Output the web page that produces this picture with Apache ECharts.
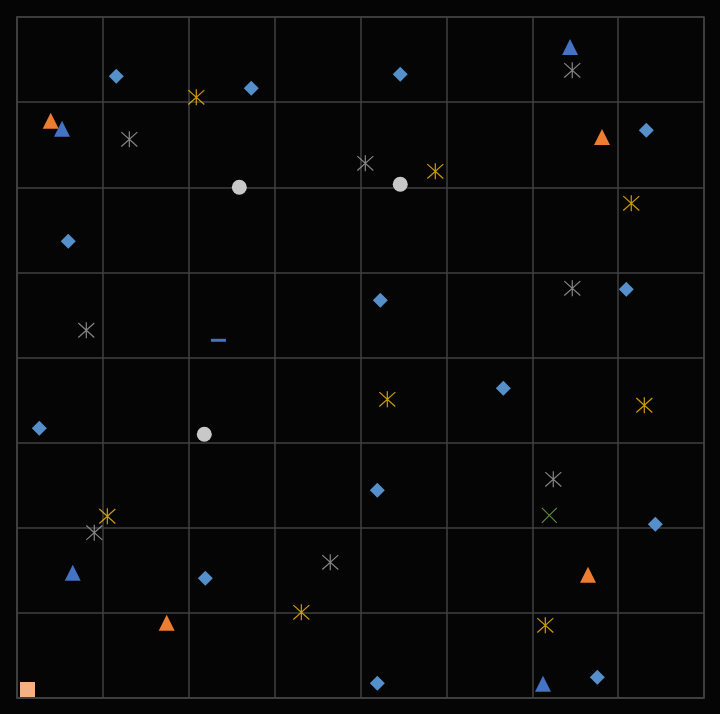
<!DOCTYPE html>
<html>
<head>
<meta charset="utf-8">
<script src="https://cdn.jsdelivr.net/npm/echarts@6/dist/echarts.min.js"></script>
<style>
html,body{margin:0;padding:0;background:#050505;}
#c{width:720px;height:714px;}
</style>
</head>
<body>
<div id="c"></div>
<script>
// Data (x, y) in axis units 0..8
var blueDiamonds = [
  [1.156, 7.303], [2.728, 7.162], [0.597, 5.365], [4.463, 7.327],
  [7.328, 6.669], [4.231, 4.672], [7.095, 4.801], [0.260, 3.168],
  [2.193, 1.406], [5.663, 3.638], [4.196, 2.440], [7.433, 2.041],
  [4.196, 0.173], [6.758, 0.243]
];
var orangeTriangles = [
  [0.392, 6.782], [6.812, 6.590], [1.743, 0.885], [6.649, 1.448]
];
var grayStars = [
  [1.308, 6.563], [0.807, 4.320], [6.466, 7.374], [4.056, 6.281],
  [6.466, 4.813], [0.900, 1.942], [3.648, 1.594], [6.245, 2.569]
];
var goldStars = [
  [2.088, 7.057], [4.871, 6.187], [7.153, 5.811], [1.052, 2.135],
  [3.311, 1.007], [4.312, 3.509], [7.305, 3.439], [6.152, 0.854]
];
var blueTriangles = [
  [0.524, 6.688], [6.440, 7.648], [0.649, 1.472], [6.125, 0.168]
];
var grayCircles = [
  [2.589, 6.000], [4.463, 6.035], [2.181, 3.098]
];
var blueDash = [[2.346, 4.202]];
var greenX = [[6.199, 2.146]];
var salmonSquare = [[0.122, 0.100]];
var axisMin = 0, axisMax = 8, axisStep = 1;

var STAR = 'path://M5,0L5,10M0.5,0.5L9.5,9.5M0.5,9.5L9.5,0.5';
var XMARK = 'path://M0,0L10,10M0,10L10,0';

function lineSeries(data, color, symbol, size) {
  return {
    type: 'scatter', data: data, symbol: symbol, symbolSize: size,
    itemStyle: { color: 'rgba(0,0,0,0)', borderColor: color, borderWidth: 1.2 },
    emphasis: { disabled: true }
  };
}
function fillSeries(data, color, symbol, size) {
  return {
    type: 'scatter', data: data, symbol: symbol, symbolSize: size,
    itemStyle: { color: color, opacity: 1 },
    emphasis: { disabled: true }
  };
}

var axisCommon = {
  type: 'value', min: axisMin, max: axisMax, interval: axisStep,
  axisLabel: { show: false }, axisTick: { show: false },
  axisLine: { show: true, lineStyle: { color: '#404040', width: 1.5 } },
  splitLine: { show: true, lineStyle: { color: '#404040', width: 1.5 } }
};

var chart = echarts.init(document.getElementById('c'), null, { renderer: 'canvas' });
chart.setOption({
  backgroundColor: '#050505',
  animation: false,
  grid: { left: 17, right: 16, top: 17, bottom: 16, show: true, borderColor: '#404040', borderWidth: 1.5 },
  xAxis: axisCommon,
  yAxis: axisCommon,
  series: [
    fillSeries(blueDiamonds, '#5590CB', 'diamond', 15),
    fillSeries(orangeTriangles, '#ED7D31', 'triangle', 16),
    lineSeries(grayStars, '#A5A5A5', STAR, 16),
    lineSeries(goldStars, '#FFC000', STAR, 16),
    fillSeries(blueTriangles, '#4472C4', 'triangle', 16),
    fillSeries(grayCircles, '#C8C8C8', 'circle', 15),
    fillSeries(blueDash, '#4472C4', 'rect', [15, 3]),
    lineSeries(greenX, '#70AD47', XMARK, 15),
    fillSeries(salmonSquare, '#F4B183', 'rect', 15)
  ]
});
</script>
</body>
</html>
